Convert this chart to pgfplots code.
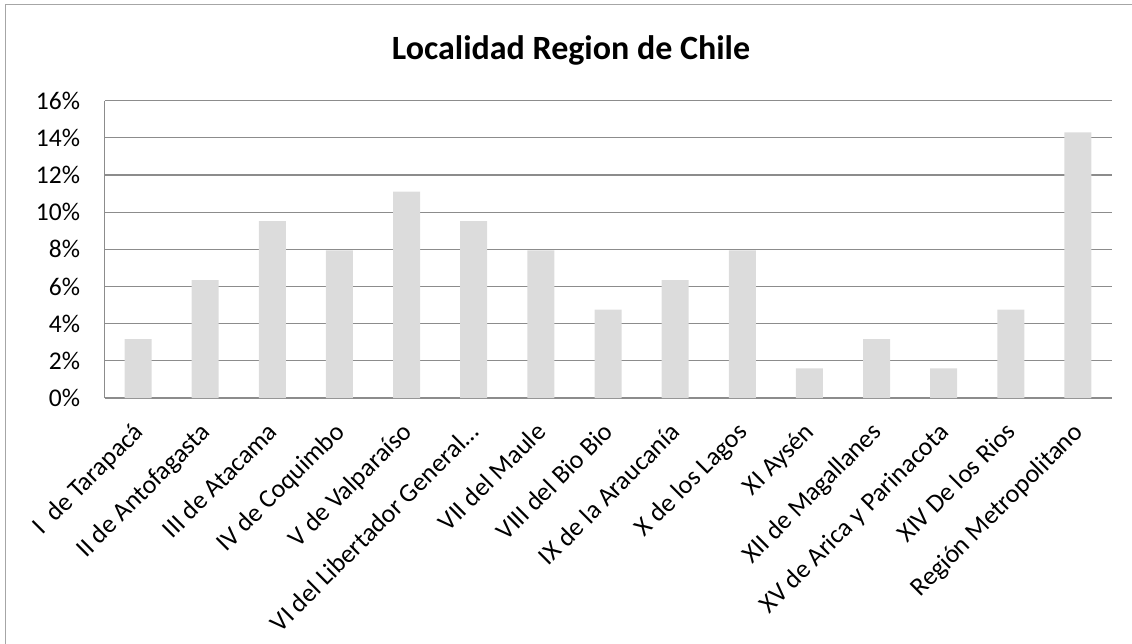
\documentclass[border=0pt]{standalone}
\usepackage{pgfplots}
\pgfplotsset{compat=1.18}
\usepackage{fontspec}
\setmainfont{Carlito}
\definecolor{barc}{HTML}{DCDCDC}
\definecolor{gridc}{HTML}{8C8C8C}
\definecolor{framec}{HTML}{A6A6A6}
\begin{document}
\begin{tikzpicture}[x=1bp,y=1bp]
\useasboundingbox (0,0) rectangle (1132,-644);
\draw[framec, line width=1.8bp] (5.5,-644) -- (5.5,-4.5) -- (1132,-4.5);
\node[font=\fontsize{34bp}{40bp}\selectfont\bfseries, anchor=base] at (571,-60) {Localidad Region de Chile};
\begin{axis}[
  at={(104.5bp,-100.7bp)}, anchor=north west,
  scale only axis, width=1007bp, height=297.3bp,
  ymin=0, ymax=16, ytick={0,2,4,6,8,10,12,14,16},
  yticklabel={\pgfmathprintnumber{\tick}\%},
  /pgf/number format/assume math mode=true,
  xmin=-0.5, xmax=14.5,
  xtick={0,1,2,3,4,5,6,7,8,9,10,11,12,13,14},
  xticklabels={{I\ \ de Tarapacá}, II de Antofagasta, III de Atacama, IV de Coquimbo, V de Valparaíso, {VI del Libertador General…}, VII del Maule, VIII del Bio Bio, IX de la Araucanía, X de los Lagos, XI Aysén, XII de Magallanes, XV de Arica y Parinacota, XIV De los Rios, Región Metropolitano},
  xticklabel style={rotate=45, anchor=north east, inner sep=0pt, font=\fontsize{26bp}{30bp}\selectfont, yshift=-11.5bp, xshift=-20.5bp},
  yticklabel style={font=\fontsize{25.5bp}{30bp}\selectfont, xshift=-21bp},
  ymajorgrids, grid style={gridc, line width=1.2bp},
  axis x line*=bottom, axis y line*=left,
  x axis line style={gridc, line width=1.8bp, -},
  y axis line style={gridc, line width=1.2bp, -},
  major tick length=0pt,
  ybar, bar width=27bp,
]
\addplot[fill=barc, draw=none] coordinates {
(0,3.17) (1,6.35) (2,9.52) (3,7.94) (4,11.11) (5,9.52) (6,7.94) (7,4.76) (8,6.35) (9,7.94) (10,1.59) (11,3.17) (12,1.59) (13,4.76) (14,14.29)};
\end{axis}
\end{tikzpicture}
\end{document}
